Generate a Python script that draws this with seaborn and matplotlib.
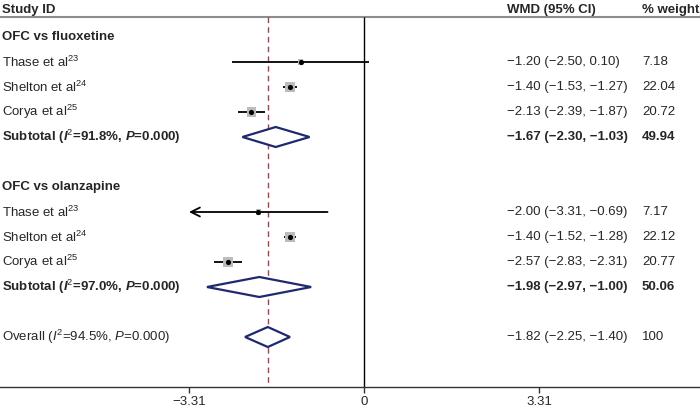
"""
Forest plot: OFC vs fluoxetine / olanzapine (WMD, 95% CI)
"""
import matplotlib
matplotlib.use('Agg')
import matplotlib.pyplot as plt
from matplotlib.patches import Polygon
import pandas as pd
import seaborn as sns

# study level data
studies = ['Thase et al', 'Shelton et al', 'Corya et al']
refs = [23, 24, 25]

flu_est = [-1.20, -1.40, -2.13]
flu_lo = [-2.50, -1.53, -2.39]
flu_hi = [0.10, -1.27, -1.87]
flu_w = [7.18, 22.04, 20.72]

olz_est = [-2.00, -1.40, -2.57]
olz_lo = [-3.31, -1.52, -2.83]
olz_hi = [-0.69, -1.28, -2.31]
olz_w = [7.17, 22.12, 20.77]

# pooled estimates: fluoxetine subtotal, olanzapine subtotal, overall
pool_est = [-1.67, -1.98, -1.82]
pool_lo = [-2.30, -2.97, -2.25]
pool_hi = [-1.03, -1.00, -1.40]
pool_w = ['49.94', '50.06', '100']
pool_i2 = [91.8, 97.0, 94.5]
pool_p = ['0.000', '0.000', '0.000']

groups = ['OFC vs fluoxetine', 'OFC vs olanzapine']
x_ticks = [-3.31, 0, 3.31]
x_ticklabels = ['\u22123.31', '0', '3.31']

NAVY = '#1f2a6e'
DASH = '#a5404f'
SQ_GREY = '#bcbcbc'


def fmt(v):
    return f'{v:.2f}'.replace('-', '\u2212')


def main():
    sns.set_theme(style='white')
    plt.rcParams['font.family'] = ['Liberation Sans', 'DejaVu Sans']
    plt.rcParams['mathtext.fontset'] = 'custom'
    plt.rcParams['mathtext.rm'] = 'Liberation Sans'
    plt.rcParams['mathtext.it'] = 'Liberation Sans:italic'
    plt.rcParams['mathtext.bf'] = 'Liberation Sans:bold'
    plt.rcParams['mathtext.bfit'] = 'Liberation Sans:bold:italic'

    fig = plt.figure(figsize=(7.0, 4.09), dpi=100)
    ax = fig.add_axes([0, 22 / 409, 1, 387 / 409])
    ax.set_xlim(-6.885, 6.355)
    ax.set_ylim(14, -1.48)

    fs = 9.5
    ytr = ax.get_yaxis_transform()
    col_lab, col_wmd, col_w = 0.003, 0.724, 0.917

    # row layout
    rows = []
    r = 0
    for g, (est, lo, hi, w) in enumerate([(flu_est, flu_lo, flu_hi, flu_w),
                                          (olz_est, olz_lo, olz_hi, olz_w)]):
        head_row = r
        r += 1
        for i in range(len(studies)):
            rows.append(dict(row=r, label=f'{studies[i]}$^{{{refs[i]}}}$', est=est[i],
                             lo=lo[i], hi=hi[i], weight=w[i], group=groups[g]))
            r += 1
        ax.text(col_lab, head_row, groups[g], transform=ytr,
                ha='left', va='center', fontsize=fs, fontweight='bold')
        r += 2
    df = pd.DataFrame(rows)
    pool_rows = [4, 10, 12]

    # header
    ax.text(col_lab, -1.08, 'Study ID', transform=ytr, ha='left', va='center', fontsize=fs, fontweight='bold')
    ax.text(col_wmd, -1.08, 'WMD (95% CI)', transform=ytr, ha='left', va='center', fontsize=fs, fontweight='bold')
    ax.text(col_w, -1.08, '% weight', transform=ytr, ha='left', va='center', fontsize=fs, fontweight='bold')
    ax.axhline(-0.8, color='#8c8c8c', lw=1.5)

    # reference lines
    ax.vlines(0, -0.8, 14, color='black', lw=1.0)
    ax.vlines(pool_est[2], -0.8, 14, color=DASH, lw=1.0, linestyles=(0, (4, 3)))

    # CI lines
    for _, s in df.iterrows():
        if s.lo <= x_ticks[0]:
            ax.annotate('', xy=(x_ticks[0], s.row), xytext=(s.hi, s.row),
                        arrowprops=dict(arrowstyle='->', lw=1.3, color='black', mutation_scale=16,
                                        shrinkA=0, shrinkB=0))
        else:
            ax.hlines(s.row, s.lo, s.hi, color='black', lw=1.3)

    # weight squares and point estimates
    k = 2.2
    sns.scatterplot(data=df, x='est', y='row', size='weight',
                    sizes=(k * df.weight.min(), k * df.weight.max()),
                    marker='s', color=SQ_GREY, linewidth=0, legend=False, ax=ax, zorder=3)
    sns.scatterplot(data=df, x='est', y='row', marker='o', color='black', s=14,
                    linewidth=0, legend=False, ax=ax, zorder=4)

    # study text
    for _, s in df.iterrows():
        ax.text(col_lab, s.row, s.label, transform=ytr, ha='left', va='center', fontsize=fs)
        ax.text(col_wmd, s.row, f'{fmt(s.est)} ({fmt(s.lo)}, {fmt(s.hi)})', transform=ytr,
                ha='left', va='center', fontsize=fs)
        ax.text(col_w, s.row, f'{s.weight:.2f}', transform=ytr, ha='left', va='center', fontsize=fs)

    # pooled diamonds
    h = 0.4
    for i, y in enumerate(pool_rows):
        d = Polygon([(pool_lo[i], y), (pool_est[i], y - h), (pool_hi[i], y), (pool_est[i], y + h)],
                    closed=True, facecolor='white', edgecolor=NAVY, lw=1.6, zorder=3)
        ax.add_patch(d)
        bold = i < 2
        if bold:
            lab = (f'Subtotal ($\\mathbfit{{I}}^{{2}}$={pool_i2[i]:.1f}%, '
                   f'$\\mathbfit{{P}}$={pool_p[i]})')
        else:
            lab = f'Overall ($\\mathit{{I}}^{{2}}$={pool_i2[i]:.1f}%, $\\mathit{{P}}$={pool_p[i]})'
        fw = 'bold' if bold else 'normal'
        ax.text(col_lab, y, lab, transform=ytr, ha='left', va='center', fontsize=fs, fontweight=fw)
        ax.text(col_wmd, y, f'{fmt(pool_est[i])} ({fmt(pool_lo[i])}, {fmt(pool_hi[i])})',
                transform=ytr, ha='left', va='center', fontsize=fs, fontweight=fw)
        ax.text(col_w, y, pool_w[i], transform=ytr, ha='left', va='center', fontsize=fs, fontweight=fw)

    # axes styling
    for side in ['top', 'left', 'right']:
        ax.spines[side].set_visible(False)
    ax.spines['bottom'].set_color('#333333')
    ax.spines['bottom'].set_linewidth(1.0)
    ax.set_yticks([])
    ax.set_xticks(x_ticks)
    ax.set_xticklabels(x_ticklabels, fontsize=fs)
    ax.tick_params(axis='x', bottom=True, direction='out', length=4.5, width=1.0,
                   color='#333333', pad=2.0)
    ax.set_xlabel('')
    ax.set_ylabel('')

    fig.savefig('out.png', dpi=100)


if __name__ == '__main__':
    main()
